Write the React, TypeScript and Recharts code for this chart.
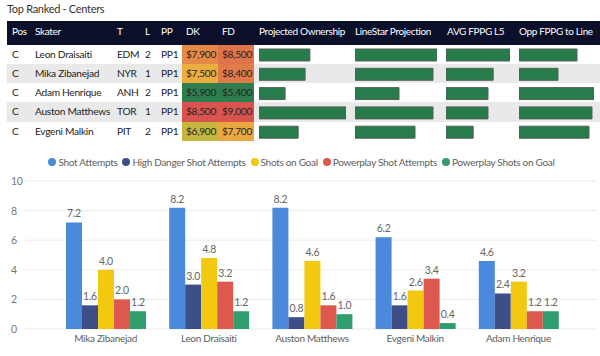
import { BarChart, Bar, XAxis, YAxis, CartesianGrid, LabelList } from "recharts";

// table (Top Ranked - Centers)
const skaters = ["Leon Draisaiti", "Mika Zibanejad", "Adam Henrique", "Auston Matthews", "Evgeni Malkin"];
const teams = ["EDM", "NYR", "ANH", "TOR", "PIT"];
const lines = [2, 1, 2, 1, 2];
const ppUnits = ["PP1", "PP1", "PP1", "PP1", "PP1"];
const dkSalary = [7900, 7500, 5900, 8500, 6900];
const fdSalary = [8500, 8400, 5400, 9000, 7700];
const projOwnership = [11.7, 10.6, 6.0, 20.0, 9.0];
const linestarProj = [20.5, 19.5, 11.0, 19.5, 15.0];
const avgFppgL5 = [16.0, 11.8, 10.5, 10.5, 6.8];
const oppFppgToLine = [11.6, 7.8, 15.0, 14.6, 14.0];

// clustered column chart
const chartPlayers = ["Mika Zibanejad", "Leon Draisaiti", "Auston Matthews", "Evgeni Malkin", "Adam Henrique"];
const shotAttempts = [7.2, 8.2, 8.2, 6.2, 4.6];
const highDangerShotAttempts = [1.6, 3.0, 0.8, 1.6, 2.4];
const shotsOnGoal = [4.0, 4.8, 4.6, 2.6, 3.2];
const ppShotAttempts = [2.0, 3.2, 1.6, 3.4, 1.2];
const ppShotsOnGoal = [1.2, 1.2, 1.0, 0.4, 1.2];
const yTicks = [0, 2, 4, 6, 8, 10];

const FONT = 'Lato, "Noto Sans", sans-serif';
const ROW_TOP = 44.5;
const ROW_H = 19.3;

const series = [
  { key: "sa", name: "Shot Attempts", color: "#4a89dc" },
  { key: "hd", name: "High Danger Shot Attempts", color: "#3d4f86" },
  { key: "sog", name: "Shots on Goal", color: "#f2c811" },
  { key: "ppsa", name: "Powerplay Shot Attempts", color: "#dd584d" },
  { key: "ppsog", name: "Powerplay Shots on Goal", color: "#2f9d6d" },
];

const chartData = chartPlayers.map((name, i) => ({
  name,
  sa: shotAttempts[i],
  hd: highDangerShotAttempts[i],
  sog: shotsOnGoal[i],
  ppsa: ppShotAttempts[i],
  ppsog: ppShotsOnGoal[i],
}));

const tableData = skaters.map((skater, i) => ({
  skater,
  own: projOwnership[i],
  ls: linestarProj[i],
  avg: avgFppgL5[i],
  opp: oppFppgToLine[i],
}));

// 3-colour scale: green (min) -> yellow (mid) -> red (max)
const GREEN = [46, 125, 78];
const YELLOW = [240, 200, 60];
const RED = [217, 83, 79];
function scaleColor(v: number, vals: number[]) {
  const min = Math.min(...vals);
  const max = Math.max(...vals);
  const mid = (min + max) / 2;
  let a = GREEN, b = YELLOW, t = 0;
  if (v <= mid) t = (v - min) / (mid - min);
  else { a = YELLOW; b = RED; t = (v - mid) / (max - mid); }
  const c = a.map((x, k) => Math.round(x + (b[k] - x) * t));
  return `rgb(${c[0]},${c[1]},${c[2]})`;
}

const money = (v: number) => "$" + v.toLocaleString("en-US");

const textCols = [
  { label: "Pos", x: 12 },
  { label: "Skater", x: 35 },
  { label: "T", x: 117 },
  { label: "L", x: 145 },
  { label: "PP", x: 161 },
  { label: "DK", x: 186 },
  { label: "FD", x: 222 },
  { label: "Projected Ownership", x: 259 },
  { label: "LineStar Projection", x: 355 },
  { label: "AVG FPPG L5", x: 447 },
  { label: "Opp FPPG to Line", x: 519 },
];

const barCols = [
  { key: "own", x: 259, w: 87 },
  { key: "ls", x: 355, w: 82 },
  { key: "avg", x: 446, w: 64 },
  { key: "opp", x: 519, w: 75 },
];

function YTick({ y, payload }: any) {
  return (
    <text x={11} y={y} dy={4} fill="#777" fontSize={10.5} fontFamily={FONT}>
      {payload.value}
    </text>
  );
}

export default function App() {
  const cell = (x: number, top: number, txt: string | number) => (
    <div style={{ position: "absolute", left: x, top, height: ROW_H, lineHeight: `${ROW_H}px`, fontSize: 10.2, color: "#252423", whiteSpace: "nowrap" }}>
      {txt}
    </div>
  );

  return (
    <div style={{ position: "absolute", left: 0, top: 0, width: 600, height: 356, background: "#fff", overflow: "hidden", fontFamily: FONT, letterSpacing: -0.3 }}>
      <div style={{ position: "absolute", left: 7, top: 2, fontSize: 11, color: "#333" }}>Top Ranked - Centers</div>

      {/* header */}
      <div style={{ position: "absolute", left: 7, top: 21, width: 593, height: 23.5, background: "#0b0f2a" }} />
      {textCols.map((c) => (
        <div key={c.label} style={{ position: "absolute", left: c.x, top: 21, lineHeight: "20px", fontSize: 10, letterSpacing: -0.35, color: "#fff", whiteSpace: "nowrap" }}>
          {c.label}
        </div>
      ))}

      {/* rows */}
      {skaters.map((s, i) => {
        const top = ROW_TOP + i * ROW_H;
        return (
          <div key={s}>
            <div style={{ position: "absolute", left: 7, top, width: 593, height: ROW_H, background: i % 2 ? "#e9e9e9" : "#fff" }} />
            <div style={{ position: "absolute", left: 182, top, width: 36, height: ROW_H, background: scaleColor(dkSalary[i], dkSalary) }} />
            <div style={{ position: "absolute", left: 218, top, width: 36, height: ROW_H, background: scaleColor(fdSalary[i], fdSalary) }} />
            {cell(12, top, "C")}
            {cell(35, top, s)}
            {cell(117, top, teams[i])}
            {cell(145, top, lines[i])}
            {cell(161, top, ppUnits[i])}
            {cell(186, top, money(dkSalary[i]))}
            {cell(222, top, money(fdSalary[i]))}
          </div>
        );
      })}

      {/* data bars */}
      {barCols.map((c) => (
        <div key={c.key} style={{ position: "absolute", left: c.x, top: ROW_TOP }}>
          <BarChart width={c.w} height={ROW_H * 5} data={tableData} layout="vertical" margin={{ top: 0, right: 0, bottom: 0, left: 0 }}>
            <XAxis type="number" hide domain={[0, "dataMax"]} />
            <YAxis type="category" dataKey="skater" hide />
            <Bar dataKey={c.key} barSize={12} fill="#287c4b" stroke="#55605a" strokeWidth={1} isAnimationActive={false} />
          </BarChart>
        </div>
      ))}

      {/* legend */}
      <div style={{ position: "absolute", left: 4, width: 600, top: 156, display: "flex", justifyContent: "center", alignItems: "center", fontSize: 10, color: "#605e5c", whiteSpace: "nowrap" }}>
        {series.map((s) => (
          <div key={s.key} style={{ display: "flex", alignItems: "center", marginRight: 5 }}>
            <span style={{ display: "inline-block", width: 8, height: 8, borderRadius: 4, background: s.color, marginRight: 2 }} />
            <span>{s.name}</span>
          </div>
        ))}
      </div>

      {/* column chart */}
      <div style={{ position: "absolute", left: 0, top: 170 }}>
        <BarChart width={600} height={186} data={chartData} margin={{ top: 11, right: 3, bottom: 0, left: 0 }} barGap={0} barCategoryGap={12}>
          <CartesianGrid vertical={false} stroke="#ebebeb" />
          <XAxis dataKey="name" axisLine={false} tickLine={false} height={27} tickMargin={0} interval={0} padding={{ left: 29, right: 27 }} tick={{ fill: "#605e5c", fontSize: 10, fontFamily: FONT }} />
          <YAxis domain={[0, 10]} ticks={yTicks} width={25} axisLine={false} tickLine={false} tick={<YTick />} />
          {series.map((s) => (
            <Bar key={s.key} dataKey={s.key} name={s.name} fill={s.color} isAnimationActive={false}>
              <LabelList dataKey={s.key} position="top" fill="#666" fontSize={10.5} fontFamily={FONT} formatter={(v: any) => Number(v).toFixed(1)} />
            </Bar>
          ))}
        </BarChart>
      </div>
    </div>
  );
}
